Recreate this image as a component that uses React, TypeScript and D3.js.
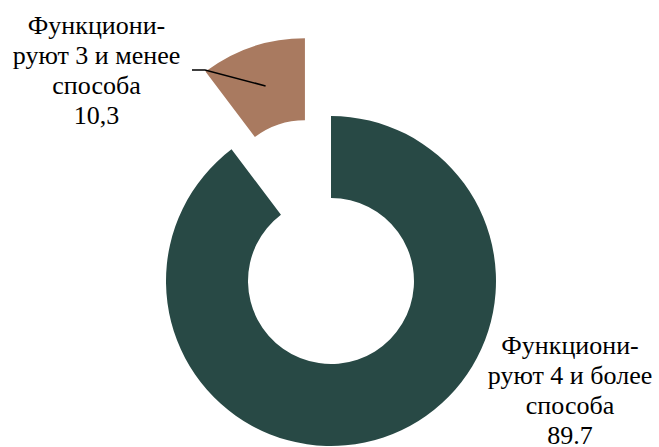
import React from "react";
import * as d3 from "d3";

const categories = ["Функциони-руют 4 и более способа", "Функциони-руют 3 и менее способа"];
const values = [89.7, 10.3];
const valueLabels = ["89.7", "10,3"];
const labelLines = [
  ["Функциони-", "руют 4 и более", "способа"],
  ["Функциони-", "руют 3 и менее", "способа"],
];
const colors = ["#284945", "#a97a60"];

const W = 659;
const H = 447;
const cx = 331;
const cy = 281;
const R = 165;
const r = 83;
const explode = 82;
const fontSize = 26;
const lineH = 30;
const FONT = "Liberation Serif";

export default function App() {
  const pie = d3.pie<number>().sort(null).value((d) => d);
  const arcs = pie(values);
  const arc = d3.arc<d3.PieArcDatum<number>>().innerRadius(r).outerRadius(R);

  const small = arcs[1];
  const mid = (small.startAngle + small.endAngle) / 2;
  const ox = Math.sin(mid) * explode;
  const oy = -Math.cos(mid) * explode;

  const lp = d3.arc<d3.PieArcDatum<number>>().innerRadius(R * 0.75).outerRadius(R * 0.75).centroid(small);
  const sx = cx + ox + lp[0];
  const sy = cy + oy + lp[1];

  const labelPos = [
    { x: 570, y: 354 },
    { x: 96.5, y: 34 },
  ];

  return (
    <svg width={W} height={H} style={{ position: "absolute", left: 0, top: 0, background: "#fff" }}>
      {arcs.map((a, i) => {
        const m = (a.startAngle + a.endAngle) / 2;
        const e = i === 1 ? explode : 0;
        const tx = cx + Math.sin(m) * e;
        const ty = cy - Math.cos(m) * e;
        return <path key={categories[i]} d={arc(a) || ""} fill={colors[i]} transform={`translate(${tx},${ty})`} />;
      })}
      <polyline points={`${192},${70} ${205},${70} ${sx},${sy}`} fill="none" stroke="#000" strokeWidth={1.5} />
      {labelPos.map((p, i) =>
        [...labelLines[i], valueLabels[i]].map((t, j) => (
          <text
            key={`${i}-${j}`}
            x={p.x}
            y={p.y + j * lineH}
            textAnchor="middle"
            fontFamily={FONT}
            fontSize={fontSize}
            style={{ fontFamily: `"${FONT}"`, fontSize: fontSize }}
            fill="#000"
          >
            {t}
          </text>
        ))
      )}
    </svg>
  );
}
